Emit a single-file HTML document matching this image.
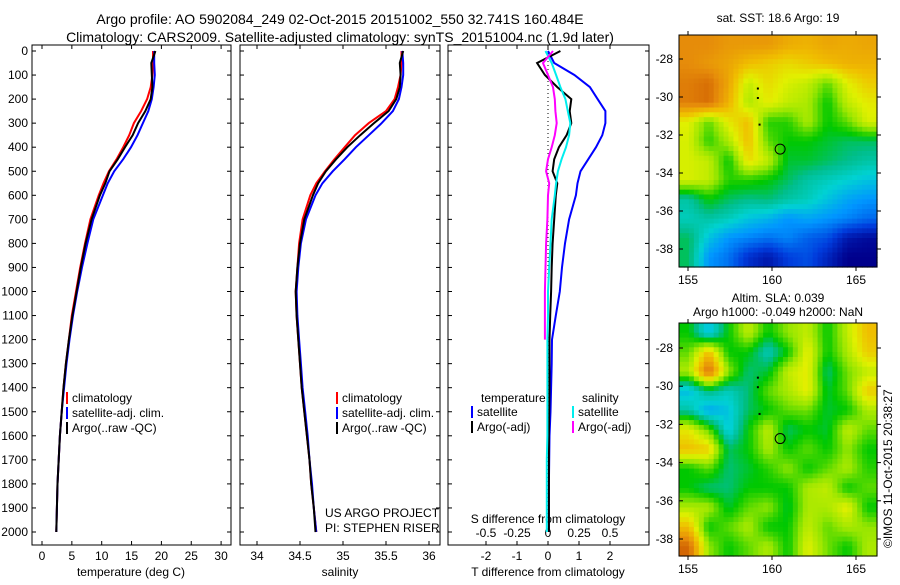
<!DOCTYPE html>
<html><head><meta charset="utf-8"><style>
body{margin:0;background:#fff;width:900px;height:580px;overflow:hidden}
svg{font-family:"Liberation Sans",sans-serif}
</style></head><body>
<svg id="s" width="900" height="580" xmlns="http://www.w3.org/2000/svg">
<text x="340" y="24" text-anchor="middle" font-size="14">Argo profile: AO 5902084_249 02-Oct-2015 20151002_550 32.741S 160.484E</text>
<text x="340" y="42" text-anchor="middle" font-size="14">Climatology: CARS2009. Satellite-adjusted climatology: synTS_20151004.nc (1.9d later)</text>
<text x="778" y="22" text-anchor="middle" font-size="12">sat. SST: 18.6 Argo: 19</text>
<text x="778" y="302" text-anchor="middle" font-size="12">Altim. SLA: 0.039</text>
<text x="778" y="316" text-anchor="middle" font-size="12">Argo h1000: -0.049 h2000: NaN</text>
<text transform="translate(892,548) rotate(-90)" font-size="12">©IMOS 11-Oct-2015 20:38:27</text>
<g id="g"></g>
</svg>
<script>
// ---- data ----
const depthTicks=[0,100,200,300,400,500,600,700,800,900,1000,1100,1200,1300,1400,1500,1600,1700,1800,1900,2000];
const depths=[0,50,100,150,200,250,300,350,400,450,500,550,600,700,800,900,1000,1100,1200,1300,1400,1500,1600,1700,1800,1900,2000];
const tempClim=[18.6,18.6,18.5,18.2,17.6,16.6,15.4,14.6,13.6,12.5,11.2,10.3,9.5,8.1,7.2,6.4,5.7,5.0,4.5,4.0,3.6,3.3,3.0,2.8,2.6,2.5,2.4];
const tempSat=[18.8,18.8,18.9,18.7,18.4,17.8,16.9,16.0,14.9,13.6,12.1,11.0,10.2,8.6,7.6,6.7,5.9,5.2,4.6,4.1,3.7,3.3,3.0,2.8,2.6,2.5,2.4];
const tempArgo=[19.0,18.3,18.4,18.5,18.2,17.3,16.1,15.2,13.9,12.7,11.3,10.6,9.7,8.3,7.3,6.5,5.8,5.1,4.5,4.0,3.6,3.3,3.0,2.8,2.6,2.5,2.4];
const salClim=[35.68,35.68,35.67,35.64,35.6,35.5,35.3,35.14,35.02,34.9,34.79,34.69,34.62,34.53,34.49,34.47,34.45,34.46,34.48,34.5,34.52,34.55,34.58,34.61,34.63,34.66,34.69];
const salSat=[35.69,35.7,35.7,35.68,35.65,35.58,35.45,35.3,35.15,35.02,34.88,34.76,34.68,34.57,34.51,34.48,34.46,34.47,34.49,34.51,34.53,34.56,34.59,34.61,34.64,34.66,34.69];
const salArgo=[35.7,35.66,35.67,35.66,35.62,35.53,35.36,35.2,35.05,34.92,34.8,34.71,34.65,34.55,34.5,34.47,34.45,34.46,34.48,34.5,34.52,34.55,34.58,34.61,34.63,34.66,34.68];
const dT_sat=[0,0.2,0.85,1.35,1.6,1.85,1.85,1.75,1.55,1.3,1.05,0.95,0.9,0.68,0.55,0.45,0.38,0.25,0.13,0.12,0.1,0.08,0.05,0.04,0.03,0.03,0.03];
const dT_argo=[0.4,-0.35,-0.1,0.3,0.75,0.7,0.75,0.6,0.35,0.2,0.15,0.3,0.25,0.2,0.15,0.12,0.1,0.07,0.05,0.05,0.05,0.04,0.03,0.03,0.03,0.03,0.03];
const dS_sat=[-0.02,0.03,0.065,0.1,0.14,0.16,0.18,0.17,0.145,0.11,0.08,0.065,0.055,0.03,0.02,0.01,0,0,-0.005,-0.005,-0.005,-0.005,-0.005,-0.01,-0.01,-0.01,-0.01];
const dS_argo=[0.04,-0.04,0,0.04,0.055,0.06,0.07,0.055,0.03,0,-0.015,0.01,0,-0.005,-0.015,-0.02,-0.025,-0.025,-0.025];
const tTicks=[0,5,10,15,20,25,30];
const sTicks=[34,34.5,35,35.5,36];
const dtTicks=[-2,-1,0,1,2];
const dsTicks=[-0.5,-0.25,0,0.25,0.5];
const latTicks=[-28,-30,-32,-34,-36,-38];
const lonTicks=[155,160,165];
const sstGrid=[
[0.8,0.8,0.78,0.78,0.78,0.75,0.74,0.76,0.75,0.76],
[0.8,0.78,0.76,0.72,0.7,0.68,0.7,0.72,0.74,0.74],
[0.82,0.84,0.76,0.62,0.68,0.64,0.62,0.55,0.65,0.7],
[0.82,0.84,0.74,0.6,0.66,0.62,0.6,0.5,0.62,0.66],
[0.65,0.55,0.66,0.72,0.52,0.52,0.6,0.5,0.55,0.64],
[0.64,0.52,0.6,0.72,0.55,0.5,0.5,0.48,0.46,0.46],
[0.64,0.62,0.5,0.68,0.62,0.48,0.48,0.46,0.44,0.42],
[0.64,0.62,0.52,0.52,0.5,0.46,0.42,0.4,0.38,0.36],
[0.42,0.5,0.46,0.44,0.45,0.42,0.4,0.36,0.32,0.3],
[0.4,0.42,0.4,0.36,0.34,0.3,0.32,0.3,0.28,0.25],
[0.46,0.36,0.3,0.28,0.26,0.28,0.24,0.22,0.14,0.12],
[0.46,0.3,0.26,0.18,0.14,0.2,0.22,0.16,0.1,0.1]];
const slaGrid=[
[0.5,0.35,0.5,0.62,0.5,0.58,0.62,0.5,0.62,0.72],
[0.55,0.72,0.5,0.5,0.4,0.5,0.66,0.5,0.6,0.7],
[0.6,0.85,0.58,0.45,0.48,0.62,0.66,0.45,0.56,0.62],
[0.35,0.45,0.4,0.45,0.55,0.6,0.66,0.48,0.55,0.7],
[0.42,0.32,0.36,0.46,0.5,0.55,0.56,0.48,0.5,0.6],
[0.66,0.55,0.36,0.5,0.62,0.46,0.5,0.48,0.62,0.55],
[0.72,0.7,0.46,0.5,0.6,0.5,0.55,0.5,0.58,0.5],
[0.5,0.55,0.45,0.48,0.52,0.58,0.5,0.55,0.6,0.52],
[0.5,0.45,0.45,0.5,0.5,0.5,0.6,0.62,0.5,0.55],
[0.6,0.6,0.48,0.55,0.58,0.48,0.6,0.6,0.66,0.5],
[0.72,0.5,0.55,0.6,0.5,0.5,0.62,0.55,0.6,0.58],
[0.85,0.58,0.5,0.55,0.6,0.5,0.65,0.56,0.5,0.6]];
const argoLon=160.484, argoLat=-32.741;

// ---- helpers ----
const NS="http://www.w3.org/2000/svg", G=document.getElementById('g');
function mk(t,a,p){const e=document.createElementNS(NS,t);for(const k in a)e.setAttribute(k,a[k]);(p||G).appendChild(e);return e;}
const yD=d=>51+d*0.2405;
const xT=v=>42+v*5.97, xS=v=>257+(v-34)*86, xDT=v=>548+v*31, xDS=v=>548+v*124;
const panels=[[32,231],[240,440],[448,649]];
const yTop=45,yBot=545;
panels.forEach((p,i)=>{
 const r=mk('rect',{x:p[0],y:yTop,width:p[1]-p[0],height:yBot-yTop,fill:'none',stroke:'#000','stroke-width':1});
 
 
 depthTicks.forEach(d=>{mk('line',{x1:p[0],x2:p[0]+4,y1:yD(d),y2:yD(d),stroke:'#000'});mk('line',{x1:p[1],x2:p[1]-4,y1:yD(d),y2:yD(d),stroke:'#000'});});
});
depthTicks.forEach(d=>{const t=mk('text',{x:28,y:yD(d)+4,'text-anchor':'end','font-size':12});t.textContent=d;
 
 });
function xticks(arr,fx,labelY){arr.forEach(v=>{mk('line',{x1:fx(v),x2:fx(v),y1:yBot,y2:yBot-4,stroke:'#000'});mk('line',{x1:fx(v),x2:fx(v),y1:yTop,y2:yTop+4,stroke:'#000'});
 const t=mk('text',{x:fx(v),y:labelY,'text-anchor':'middle','font-size':12});t.textContent=v;
 
 });}
xticks(tTicks,xT,560);xticks(sTicks,xS,560);xticks(dtTicks,xDT,560);
dsTicks.forEach(v=>{const t=mk('text',{x:xDS(v),y:537,'text-anchor':'middle','font-size':12});t.textContent=v;
 
 });
function lbl(x,y,s,n,sz,anc){const t=mk('text',{x:x,y:y,'text-anchor':anc||'middle','font-size':sz||12});t.textContent=s;
 
 return t;}
lbl(131,576,'temperature (deg C)','x-axis-title-temperature');
lbl(340,576,'salinity','x-axis-title-salinity');
lbl(548,576,'T difference from climatology','x-axis-title-tdiff');
lbl(548,523,'S difference from climatology','s-diff-axis-title');
lbl(325,517,'US ARGO PROJECT','project-label',12,'start');
lbl(325,532,'PI: STEPHEN RISER','pi-label',12,'start');
const z=mk('line',{x1:548,x2:548,y1:yTop,y2:yD(1960),stroke:'#000','stroke-dasharray':'1,3'});


function line(xs,fx,col,name,w){const pts=xs.map((v,i)=>fx(v).toFixed(1)+','+yD(depths[i]).toFixed(1)).join(' ');
 const e=mk('polyline',{points:pts,fill:'none',stroke:col,'stroke-width':w||2});
 
 }
line(tempClim,xT,'#f00','temp-climatology');line(tempSat,xT,'#00f','temp-satellite');line(tempArgo,xT,'#000','temp-argo');
line(salClim,xS,'#f00','sal-climatology');line(salSat,xS,'#00f','sal-satellite');line(salArgo,xS,'#000','sal-argo');
line(dT_sat,xDT,'#00f','tdiff-satellite');line(dT_argo,xDT,'#000','tdiff-argo');
line(dS_sat,xDS,'#0ee','sdiff-satellite');line(dS_argo,xDS,'#f0f','sdiff-argo');
function leg(x,y,col,s,n){mk('line',{x1:x,x2:x,y1:y-10,y2:y+2,stroke:col,'stroke-width':2});lbl(x+5,y,s,n,12,'start');}
[[67,'#f00','climatology'],[67,'#00f','satellite-adj. clim.'],[67,'#000','Argo(..raw -QC)']].forEach((l,i)=>{leg(l[0],402+i*15,l[1],l[2],'legend-entry-temp');leg(l[0]+270,402+i*15,l[1],l[2],'legend-entry-sal');});
lbl(481,402,'temperature','legend-header-temperature',12,'start');lbl(582,402,'salinity','legend-header-salinity',12,'start');
leg(472,416,'#00f','satellite','legend-tdiff-satellite');leg(472,431,'#000','Argo(-adj)','legend-tdiff-argo');
leg(573,416,'#0ee','satellite','legend-sdiff-satellite');leg(573,431,'#f0f','Argo(-adj)','legend-sdiff-argo');
const stops=[[0.1,[0,0,140]],[0.2,[0,60,220]],[0.3,[0,150,255]],[0.38,[0,210,210]],[0.44,[0,190,140]],[0.5,[0,200,0]],[0.58,[150,230,0]],[0.65,[225,240,0]],[0.72,[240,190,0]],[0.8,[230,140,10]],[0.88,[200,80,0]]];
function pal(v){if(v<=stops[0][0])return 'rgb('+stops[0][1]+')';
 for(let i=1;i<stops.length;i++){if(v<=stops[i][0]){const a=stops[i-1],b=stops[i],t=(v-a[0])/(b[0]-a[0]);
  return 'rgb('+a[1].map((c,k)=>Math.round(c+(b[1][k]-c)*t)).join(',')+')';}}
 return 'rgb('+stops[stops.length-1][1]+')';}
function samp(grid,fr,fc){const R=grid.length,C=grid[0].length;
 fr=Math.max(0,Math.min(R-1,fr));fc=Math.max(0,Math.min(C-1,fc));
 const r0=Math.floor(fr),c0=Math.floor(fc),r1=Math.min(R-1,r0+1),c1=Math.min(C-1,c0+1),tr=fr-r0,tc=fc-c0;
 return grid[r0][c0]*(1-tr)*(1-tc)+grid[r0][c1]*(1-tr)*tc+grid[r1][c0]*tr*(1-tc)+grid[r1][c1]*tr*tc;}
function map(grid,x0,y0,x1,y1,lat28,lat38,name){
 const rows=grid.length,cols=grid[0].length,up=4,NR=rows*up,NC=cols*up,cw=(x1-x0)/NC,ch=(y1-y0)/NR;
 for(let r=0;r<NR;r++)for(let c=0;c<NC;c++){
  const v=samp(grid,(r+0.5)/up-0.5,(c+0.5)/up-0.5);
  const e=mk('rect',{x:(x0+c*cw).toFixed(2),y:(y0+r*ch).toFixed(2),width:(cw+0.6).toFixed(2),height:(ch+0.6).toFixed(2),fill:pal(v)});
  
  }
 const fr=mk('rect',{x:x0,y:y0,width:x1-x0,height:y1-y0,fill:'none',stroke:'#000'});
 
 
 const fy=l=>lat28+(-28-l)*(lat38-lat28)/10, fx=l=>688+(l-155)*16.8;
 latTicks.forEach(l=>{mk('line',{x1:x0,x2:x0+4,y1:fy(l),y2:fy(l),stroke:'#000'});mk('line',{x1:x1,x2:x1+4,y1:fy(l),y2:fy(l),stroke:'#000'});lbl(673,fy(l)+4,l,name+'-lat-label',12,'end');});
 lonTicks.forEach(l=>{mk('line',{x1:fx(l),x2:fx(l),y1:y1,y2:y1+4,stroke:'#000'});mk('line',{x1:fx(l),x2:fx(l),y1:y0,y2:y0-4,stroke:'#000'});lbl(fx(l),y1+17,l,name+'-lon-label');});
 const c=mk('circle',{cx:fx(argoLon),cy:fy(argoLat),r:5,fill:'none',stroke:'#000'});
 
 
 [[159.1,-29.5],[159.1,-30],[159.2,-31.4]].forEach(p=>mk('rect',{x:fx(p[0]),y:fy(p[1]),width:2,height:2,fill:'#000'}));
}
map(sstGrid,679,35,877,267,59,249,'sst-map');
map(slaGrid,679,323,877,556,348,539,'sla-map');
</script>
</body></html>
